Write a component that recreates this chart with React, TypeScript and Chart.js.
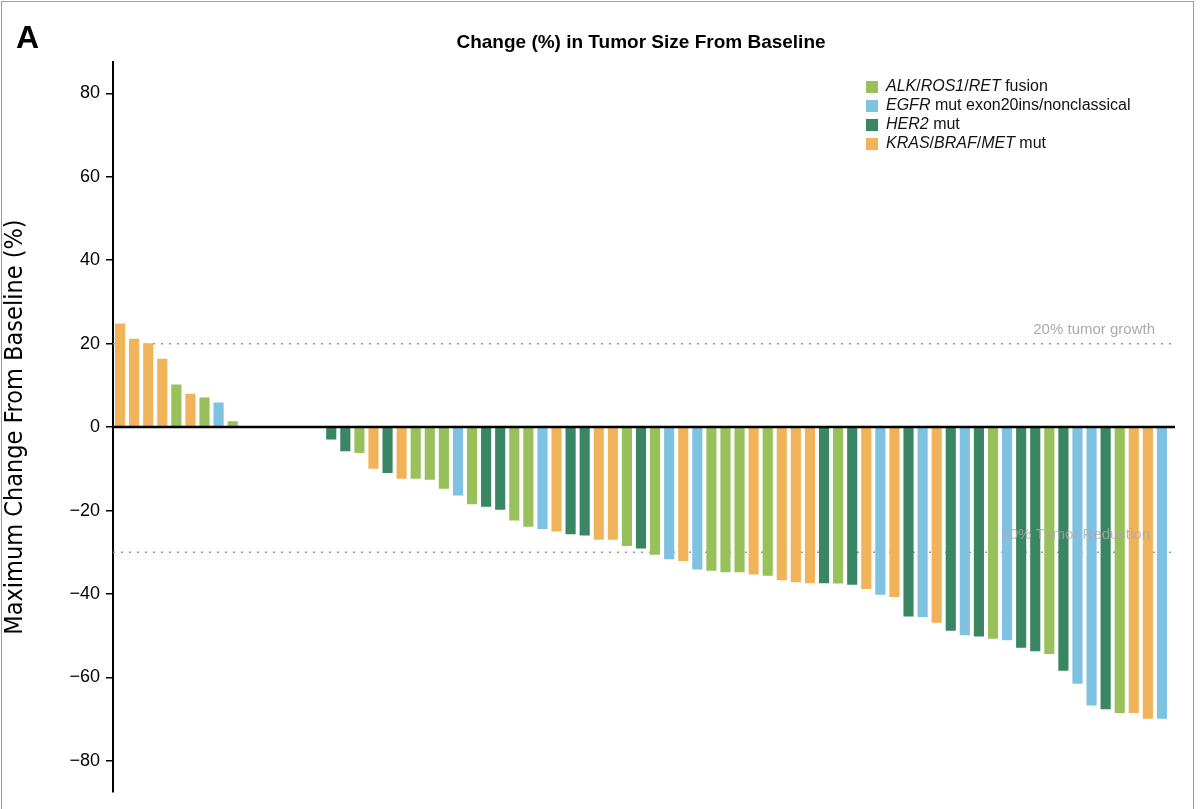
import React, { useEffect, useRef } from "react";
import { Chart, registerables } from "chart.js";
Chart.register(...registerables);

const GREEN = "#98c05b";
const BLUE = "#7fc1e1";
const DARK = "#3a8664";
const ORANGE = "#f1b35a";

const groupNames = ["ALK/ROS1/RET fusion", "EGFR mut exon20ins/nonclassical", "HER2 mut", "KRAS/BRAF/MET mut"];
const groupColors = [GREEN, BLUE, DARK, ORANGE];

// group codes: A=ALK/ROS1/RET, E=EGFR, H=HER2, K=KRAS/BRAF/MET, "-" = no change
const patientGroups = [
  "K","K","K","K","A","K","A","E","A",
  "-","-","-","-","-","-",
  "H","H","A","K","H","K","A","A","A","E","A","H","H","A","A","E","K","H","H","K","K","A",
  "H","A","E","K","E","A","A","A","K","A","K","K","K","H","A","H","K","E","K","H","E","K","H","E","H","A","E","H","H","A","H","E","E","H","A","K","K","E"
];
const changeValues = [
  24.8, 21.2, 20.1, 16.4, 10.2, 8.0, 7.1, 5.9, 1.4,
  0, 0, 0, 0, 0, 0,
  -3.0, -5.8, -6.2, -10.0, -11.0, -12.4, -12.4, -12.6, -14.8, -16.4, -18.5, -19.1, -19.8, -22.4, -23.9, -24.4, -25.0, -25.7, -26.0, -27.0, -27.0, -28.5,
  -29.1, -30.6, -31.7, -32.1, -34.1, -34.4, -34.8, -34.8, -35.3, -35.6, -36.7, -37.2, -37.4, -37.4, -37.5, -37.8, -38.8, -40.2, -40.7, -45.4, -45.5, -46.9, -48.8, -49.9, -50.2, -50.7, -51.1, -52.9, -53.7, -54.4, -58.4, -61.5, -66.7, -67.6, -68.5, -68.5, -69.9, -69.9
];
const yTicks = [80, 60, 40, 20, 0, -20, -40, -60, -80];
const refLines = [
  { value: 20, label: "20% tumor growth" },
  { value: -30, label: "30% Tumor Reduction" },
];

const codeColor: Record<string, string> = { A: GREEN, E: BLUE, H: DARK, K: ORANGE, "-": "#cccccc" };

export default function App() {
  const ref = useRef<HTMLCanvasElement>(null);
  useEffect(() => {
    const overlay = {
      id: "overlay",
      beforeDatasetsDraw(chart: any) {
        const { ctx, chartArea, scales } = chart;
        const y = scales.y;
        ctx.save();
        ctx.setLineDash([2, 6]);
        ctx.strokeStyle = "#999";
        ctx.lineWidth = 1.5;
        refLines.forEach((r) => {
          const py = y.getPixelForValue(r.value);
          ctx.beginPath();
          ctx.moveTo(chartArea.left, py);
          ctx.lineTo(chartArea.right + 6, py);
          ctx.stroke();
        });
        ctx.restore();
      },
      afterDatasetsDraw(chart: any) {
        const { ctx, chartArea, scales } = chart;
        const y = scales.y;
        ctx.save();
        const z = y.getPixelForValue(0);
        ctx.strokeStyle = "#000";
        ctx.lineWidth = 2.5;
        ctx.beginPath();
        ctx.moveTo(chartArea.left, z);
        ctx.lineTo(chartArea.right + 6, z);
        ctx.stroke();
        // ref labels
        ctx.font = "15px 'Liberation Sans', Arial";
        ctx.textAlign = "right";
        ctx.textBaseline = "bottom";
        ctx.fillStyle = "#aaaaaa";
        ctx.fillText(refLines[0].label, 1155, y.getPixelForValue(refLines[0].value) - 6);
        ctx.fillStyle = "rgba(170,170,170,0.8)";
        ctx.fillText(refLines[1].label, 1150, y.getPixelForValue(refLines[1].value) - 10);
        // panel letter and title
        ctx.fillStyle = "#000";
        ctx.textAlign = "left";
        ctx.textBaseline = "alphabetic";
        ctx.font = "bold 32px 'Liberation Sans', Arial";
        ctx.fillText("A", 16, 48);
        ctx.textAlign = "center";
        ctx.font = "bold 19px 'Liberation Sans', Arial";
        ctx.fillText("Change (%) in Tumor Size From Baseline", 641, 48);
        // legend
        const lx = 866, ly0 = 87, step = 19;
        ctx.textAlign = "left";
        ctx.textBaseline = "middle";
        groupNames.forEach((name, i) => {
          const ly = ly0 + i * step;
          ctx.fillStyle = groupColors[i];
          ctx.fillRect(lx, ly - 6, 12, 12);
          ctx.fillStyle = "#111";
          let x = lx + 20;
          const parts: [string, boolean][] =
            i === 0 ? [["ALK", true], ["/", false], ["ROS1", true], ["/", false], ["RET", true], [" fusion", false]] :
            i === 1 ? [["EGFR", true], [" mut exon20ins/nonclassical", false]] :
            i === 2 ? [["HER2", true], [" mut", false]] :
            [["KRAS", true], ["/", false], ["BRAF", true], ["/", false], ["MET", true], [" mut", false]];
          parts.forEach(([t, it]) => {
            ctx.font = (it ? "italic " : "") + "16px 'Liberation Sans', Arial";
            ctx.fillText(t, x, ly);
            x += ctx.measureText(t).width;
          });
        });
        ctx.restore();
      },
    };
    const chart = new Chart(ref.current!, {
      type: "bar",
      data: {
        labels: changeValues.map((_, i) => String(i + 1)),
        datasets: [
          {
            data: changeValues,
            backgroundColor: patientGroups.map((g) => codeColor[g]),
            barPercentage: 0.72,
            categoryPercentage: 1,
          },
        ],
      },
      options: {
        animation: false,
        responsive: false,
        layout: { padding: { top: 62, bottom: 12, right: 31, left: 0 } },
        plugins: { legend: { display: false }, tooltip: { enabled: false } },
        scales: {
          x: {
            display: false,
            offset: true,
          },
          y: {
            min: -87.5,
            max: 87.5,
            afterBuildTicks(axis: any) {
              axis.ticks = yTicks.map((v) => ({ value: v }));
            },
            afterFit(axis: any) {
              axis.width = 113;
            },
            border: { display: true, color: "#000", width: 2 },
            grid: { drawOnChartArea: false, tickLength: 7, color: "#000", lineWidth: 1.5 },
            ticks: {
              color: "#000",
              padding: 6,
              font: { size: 18, family: "'Liberation Sans', Arial" },
              callback: (v: any) => (Number(v) < 0 ? "\u2212" + Math.abs(Number(v)) : String(v)),
            },
            title: {
              display: true,
              text: "Maximum Change From Baseline (%)",
              color: "#000",
              font: { size: 25, family: "'Liberation Sans Narrow', 'DejaVu Sans Condensed', Arial" },
              padding: { top: 0, bottom: 10 },
            },
          },
        },
      },
      plugins: [overlay],
    });
    return () => chart.destroy();
  }, []);
  return (
    <div style={{ position: "fixed", left: 0, top: 0, width: 1200, height: 809, background: "#fff" }}>
      <div style={{ position: "absolute", left: 1, top: 1, width: 1191, height: 820, border: "1.5px solid #7fa3cf", borderBottom: "none" }} />
      <canvas ref={ref} width={1200} height={809} style={{ position: "absolute", left: 0, top: 0 }} />
    </div>
  );
}
